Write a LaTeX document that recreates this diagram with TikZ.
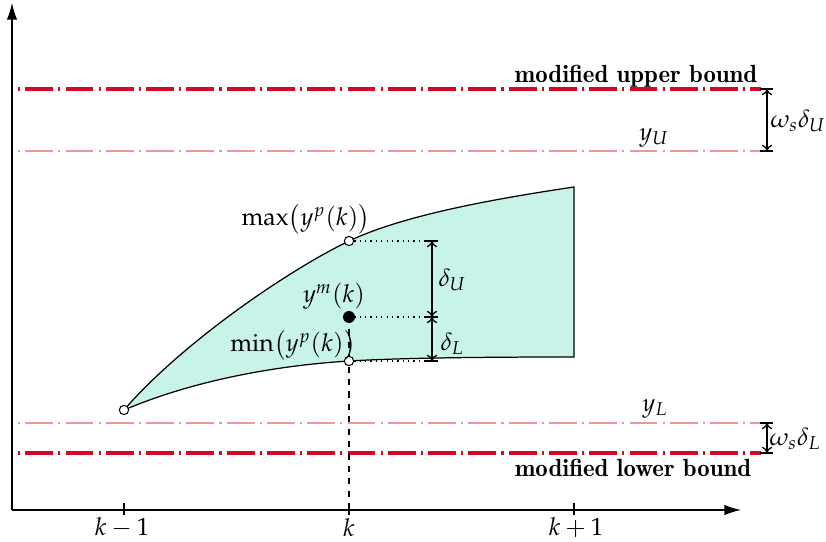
\documentclass[tikz,border=0pt]{standalone}
\usepackage{mathpazo}
\usetikzlibrary{arrows.meta}
\definecolor{bndred}{RGB}{212,8,38}
\definecolor{limred}{RGB}{238,150,160}
\definecolor{regfill}{RGB}{200,243,233}
\tikzset{
  bound/.style={draw=bndred, line width=1.5pt, dash pattern=on 1pt off 2.5pt on 13.5pt off 2.5pt},
  limit/.style={draw=limred, line width=0.5pt, dash pattern=on 1pt off 2.5pt on 13.5pt off 2.5pt},
  axisline/.style={line width=0.6pt, -{Latex[length=8pt,width=5pt]}},
  dimarrow/.style={line width=0.6pt, {To[length=3pt,width=5pt]}-{To[length=3pt,width=5pt]}},
  barline/.style={line width=0.6pt},
  openpt/.style={circle, draw, line width=0.5pt, fill=white, inner sep=0pt, minimum size=4.5pt},
  fullpt/.style={circle, fill=black, inner sep=0pt, minimum size=5.8pt},
  boldlabel/.style={font=\fontfamily{lmr}\bfseries\large},
  lbl/.style={inner sep=1pt, font=\large}
}
\begin{document}
\begin{tikzpicture}[x=0.484pt,y=-0.484pt]
\useasboundingbox (0,0) rectangle (826,542);
% key points
\coordinate (p0) at (124,410);
\coordinate (pmax) at (349,241);
\coordinate (pm) at (349,317);
\coordinate (pmin) at (349,361);
\coordinate (tr) at (574,187);
\coordinate (br) at (574,357);
% region
\path[fill=regfill] (p0) .. controls (180,345) and (285,272) .. (pmax)
  .. controls (400,217) and (480,201) .. (tr) -- (br)
  .. controls (480,357) and (400,358) .. (pmin)
  .. controls (270,366) and (190,382) .. (p0) -- cycle;
\draw[line width=0.6pt] (p0) .. controls (180,345) and (285,272) .. (pmax)
  .. controls (400,217) and (480,201) .. (tr) -- (br)
  .. controls (480,357) and (400,358) .. (pmin)
  .. controls (270,366) and (190,382) .. (p0);
% axes
\coordinate (origin) at (12,510);
\coordinate (ytip) at (12,3);
\coordinate (xtip) at (741,510);
\draw[axisline] (origin) -- (ytip);
\draw[axisline] (origin) -- (xtip);
% ticks
\coordinate (t1a) at (124,503); \coordinate (t1b) at (124,515);
\coordinate (t2a) at (349,503); \coordinate (t2b) at (349,515);
\coordinate (t3a) at (574,503); \coordinate (t3b) at (574,515);
\draw[barline] (t1a) -- (t1b);
\draw[barline] (t2a) -- (t2b);
\draw[barline] (t3a) -- (t3b);
\node[lbl] (lk1) at (122,528) {$k-1$};
\node[lbl] (lk) at (349,528) {$k$};
\node[lbl] (lk2) at (576,528) {$k+1$};
% bound lines
\coordinate (mubL) at (18,89);  \coordinate (mubR) at (761,89);
\coordinate (yuL) at (18,151);  \coordinate (yuR) at (761,151);
\coordinate (ylL) at (18,423);  \coordinate (ylR) at (761,423);
\coordinate (mlbL) at (18,453); \coordinate (mlbR) at (761,453);
\draw[bound] (mubL) -- (mubR);
\draw[limit] (yuL) -- (yuR);
\draw[limit] (ylL) -- (ylR);
\draw[bound] (mlbL) -- (mlbR);
\node[boldlabel] (mub) at (636,76) {modified upper bound};
\node[boldlabel] (mlb) at (633,468) {modified lower bound};
\node[lbl] (yU) at (654,138) {$y_U$};
\node[lbl] (yL) at (655,409) {$y_L$};
% omega dims
\coordinate (wuT) at (767,89);  \coordinate (wuB) at (767,151);
\coordinate (wlT) at (767,423); \coordinate (wlB) at (767,453);
\coordinate (b1a) at (760,89);  \coordinate (b1b) at (773,89);
\coordinate (b2a) at (760,151); \coordinate (b2b) at (773,151);
\coordinate (b3a) at (760,423); \coordinate (b3b) at (773,423);
\coordinate (b4a) at (760,453); \coordinate (b4b) at (773,453);
\draw[barline] (b1a) -- (b1b);
\draw[barline] (b2a) -- (b2b);
\draw[barline] (b3a) -- (b3b);
\draw[barline] (b4a) -- (b4b);
\draw[dimarrow] (wuT) -- (wuB);
\draw[dimarrow] (wlT) -- (wlB);
\node[lbl, anchor=west] (wdu) at (768,121) {$\omega_s\delta_U$};
\node[lbl, anchor=west] (wdl) at (767,439) {$\omega_s\delta_L$};
% delta dims
\coordinate (dmaxR) at (425,241);
\coordinate (dmR) at (425,317);
\coordinate (dminR) at (425,361);
\draw[dotted, line width=0.6pt] (pmax) -- (dmaxR);
\draw[dotted, line width=0.6pt] (pm) -- (dmR);
\draw[dotted, line width=0.6pt] (pmin) -- (dminR);
\coordinate (c1a) at (425,241); \coordinate (c1b) at (438,241);
\coordinate (c2a) at (425,317); \coordinate (c2b) at (438,317);
\coordinate (c3a) at (425,361); \coordinate (c3b) at (438,361);
\draw[barline] (c1a) -- (c1b);
\draw[barline] (c2a) -- (c2b);
\draw[barline] (c3a) -- (c3b);
\coordinate (dUT) at (432,241); \coordinate (dUB) at (432,317);
\coordinate (dLT) at (432,317); \coordinate (dLB) at (432,361);
\draw[dimarrow] (dUT) -- (dUB);
\draw[dimarrow] (dLT) -- (dLB);
\node[lbl, anchor=west] (dU) at (436,280) {$\delta_U$};
\node[lbl, anchor=west] (dL) at (438,344) {$\delta_L$};
% dashed vertical
\coordinate (kbase) at (349,510);
\draw[dashed, line width=0.6pt] (pm) -- (kbase);
% points
\node[openpt] (n0) at (p0) {};
\node[openpt] (nmax) at (pmax) {};
\node[fullpt] (nm) at (pm) {};
\node[openpt] (nmin) at (pmin) {};
% point labels
\node[lbl] (lmax) at (306,219) {$\max\bigl(y^p(k)\bigr)$};
\node[lbl] (lm) at (334,296) {$y^m(k)$};
\node[lbl] (lmin) at (293,345) {$\min\bigl(y^p(k)\bigr)$};
\end{tikzpicture}
\end{document}
